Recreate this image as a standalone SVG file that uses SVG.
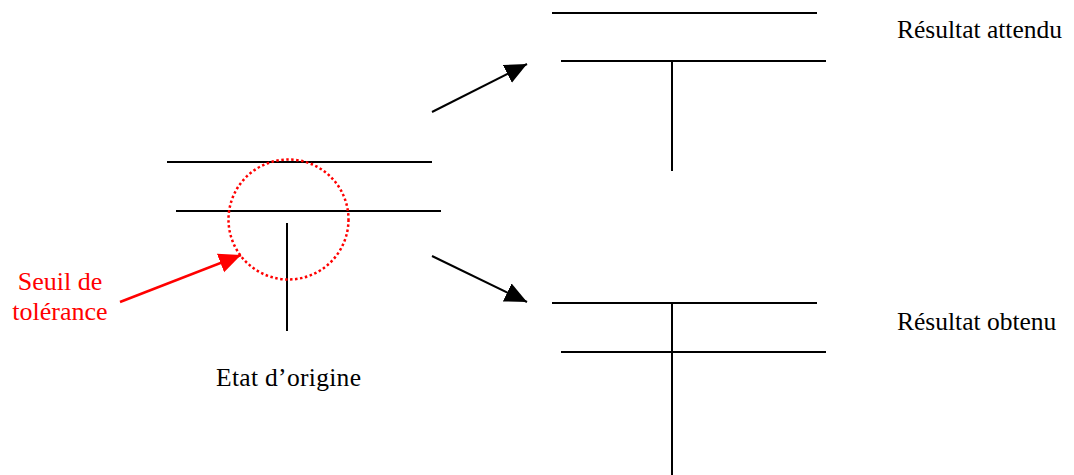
<svg xmlns="http://www.w3.org/2000/svg" width="1074" height="475" viewBox="0 0 1074 475">
<style>
.ln{stroke:#000;stroke-width:2;fill:none}
.lbl{font-family:"Liberation Serif","Times New Roman",serif;font-size:25.5px;fill:#000}
.red{font-family:"Liberation Serif","Times New Roman",serif;font-size:26px;fill:#ff0000}
</style>
<defs>
<marker id="ah" markerUnits="userSpaceOnUse" markerWidth="24" markerHeight="22" refX="22" refY="10" orient="auto">
<path d="M0,0 L22,10 L0,20 z" fill="#000"/>
</marker>
<marker id="ahr" markerUnits="userSpaceOnUse" markerWidth="24" markerHeight="22" refX="22" refY="10" orient="auto">
<path d="M0,0 L22,10 L0,20 z" fill="#ff0000"/>
</marker>
</defs>
<rect width="1074" height="475" fill="#fff"/>
<g id="origine">
<line class="ln" x1="167" y1="162" x2="432" y2="162"/>
<line class="ln" x1="176" y1="211" x2="441" y2="211"/>
<line class="ln" x1="287" y1="223" x2="287" y2="331"/>
<text class="lbl" x="216" y="386" textLength="145">Etat d’origine</text>
</g>
<g id="seuil">
<circle cx="288.5" cy="219.5" r="60" fill="none" stroke="#ff0000" stroke-width="2.5" stroke-dasharray="2.5 2.5"/>
<text class="red" x="60" y="290" text-anchor="middle">Seuil de</text>
<text class="red" x="60" y="320" text-anchor="middle">tolérance</text>
</g>
<g id="attendu">
<line class="ln" x1="552" y1="13" x2="817" y2="13"/>
<line class="ln" x1="561" y1="61" x2="826" y2="61"/>
<line class="ln" x1="672" y1="62" x2="672" y2="171"/>
<text class="lbl" x="897" y="38">Résultat attendu</text>
</g>
<g id="obtenu">
<line class="ln" x1="552" y1="303" x2="817" y2="303"/>
<line class="ln" x1="561" y1="352" x2="826" y2="352"/>
<line class="ln" x1="672" y1="303" x2="672" y2="475"/>
<text class="lbl" x="897" y="330">Résultat obtenu</text>
</g>
<g id="connectors">
<line class="ln" x1="432" y1="112" x2="527" y2="64" marker-end="url(#ah)"/>
<line class="ln" x1="432" y1="256" x2="527" y2="302" marker-end="url(#ah)"/>
<line x1="120" y1="302" x2="241" y2="255" stroke="#ff0000" stroke-width="2.5" marker-end="url(#ahr)"/>
</g>
</svg>
